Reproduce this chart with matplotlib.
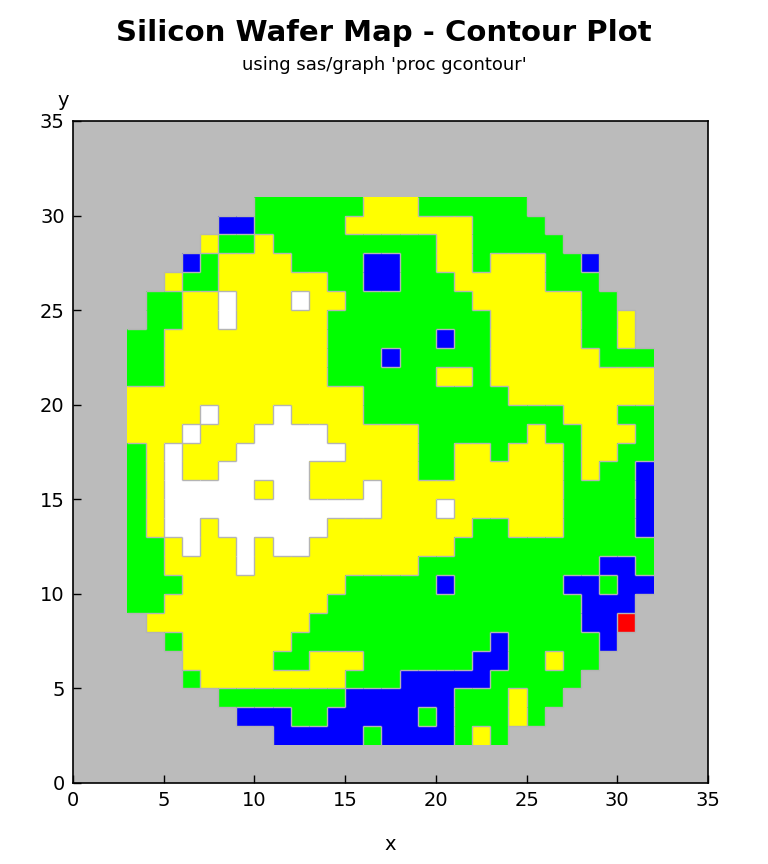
import numpy as np
import matplotlib
matplotlib.use("Agg")
import matplotlib.pyplot as plt
from matplotlib.colors import ListedColormap
from matplotlib.collections import LineCollection

# wafer map, one string per row
# first string is y=30 (top), last is y=2; columns are x=3..31
# . = no data, B G Y W R = contour level
wafer_rows = [
    ".......GGGGGGYYYGGGGGG.......",
    ".....BBGGGGGYYYYYYYGGGG......",
    "....YGGYGGGGGGGGGYYGGGGG.....",
    "...BGYYYYGGGGBBGGYYGYYYGGB...",
    "..YGGYYYYYYGGBBGGGYYYYYGGG...",
    ".GGYYWYYYWYYGGGGGGGYYYYYYGG..",
    ".GGYYWYYYYYGGGGGGGGGYYYYYGGY.",
    "GGYYYYYYYYYGGGGGGBGGYYYYYGGY.",
    "GGYYYYYYYYYGGGBGGGGGYYYYYYGGG",
    "GGYYYYYYYYYGGGGGGYYGYYYYYYYYY",
    "YYYYYYYYYYYYYGGGGGGGGYYYYYYYY",
    "YYYYWYYYWYYYYGGGGGGGGGGGYYYGG",
    "YYYWYYYWWWWYYYYYGGGGGGYGGYYYG",
    "GYWYYYWWWWWWYYYYGGYYGYYYGYYGG",
    "GYWYYWWWWWYYYYYYGGYYYYYYGYGGB",
    "GYWWWWWYWWYYYWYYYYYYYYYYGGGGB",
    "GYWWWWWWWWWWWWYYYWYYYYYYGGGGB",
    "GYWWYWWWWWWYYYYYYYYGGYYYGGGGB",
    "GGYWYYWYWWYYYYYYYYGGGGGGGGGGG",
    "GGYYYYWYYYYYYYYYGGGGGGGGGGBBG",
    "GGGYYYYYYYYYGGGGGBGGGGGGBBGBB",
    "GGYYYYYYYYYGGGGGGGGGGGGGGBBB.",
    ".YYYYYYYYYGGGGGGGGGGGGGGGBBR.",
    "..GYYYYYYGGGGGGGGGGGBGGGGGB..",
    "...YYYYYGGYYYGGGGGGBBGGYGG...",
    "...GYYYYYYYYGGGBBBBBGGGGG....",
    ".....GGGGGGGBBBBBBGGGYGG.....",
    "......BBBGGBBBBBGBGGGYG......",
    "........BBBBBGBBBBGYG........",
]
x_first = 3
y_first = 2

level_codes = ["B", "G", "Y", "W", "R"]
level_colors = ["#0000ff", "#00ff00", "#ffff00", "#ffffff", "#ff0000"]
bg_color = "#bbbbbb"

rows = wafer_rows[::-1]
ny = len(rows)
nx = len(rows[0])
z = np.full((ny, nx), np.nan)
for i, r in enumerate(rows):
    for j, c in enumerate(r):
        if c in level_codes:
            z[i, j] = level_codes.index(c)

xe = np.arange(nx + 1) + x_first
ye = np.arange(ny + 1) + y_first

fig = plt.figure(figsize=(7.68, 8.64), dpi=100)
ax = fig.add_axes([73 / 768, 81 / 864, 635 / 768, 662 / 864])
ax.set_facecolor(bg_color)
ax.pcolormesh(xe, ye, np.ma.masked_invalid(z), cmap=ListedColormap(level_colors),
              vmin=-0.5, vmax=len(level_codes) - 0.5)

# outline the level regions, like the gcontour pattern edges
segs = []
for i in range(ny):
    for j in range(nx):
        if j + 1 < nx and rows[i][j] != rows[i][j + 1]:
            segs.append([(xe[j + 1], ye[i]), (xe[j + 1], ye[i + 1])])
        if i + 1 < ny and rows[i][j] != rows[i + 1][j]:
            segs.append([(xe[j], ye[i + 1]), (xe[j + 1], ye[i + 1])])
ax.add_collection(LineCollection(segs, colors="#b4b4b4", linewidths=1.0))

ax.set_xlim(0, 35)
ax.set_ylim(0, 35)
ax.set_xticks(range(0, 36, 5))
ax.set_yticks(range(0, 36, 5))
ax.tick_params(direction="in", length=6, width=1, labelsize=14, pad=6)
for s in ax.spines.values():
    s.set_linewidth(1.2)

fig.text(0.5, 1 - 33 / 864, "Silicon Wafer Map - Contour Plot", ha="center", va="center",
         fontsize=21, fontweight="bold")
fig.text(0.5, 1 - 65 / 864, "using sas/graph 'proc gcontour'", ha="center", va="center",
         fontsize=13)
fig.text(63 / 768, 1 - 100 / 864, "y", ha="center", va="center", fontsize=14)
fig.text(390 / 768, 1 - 845 / 864, "x", ha="center", va="center", fontsize=14)

fig.savefig("out.png", dpi=100)
